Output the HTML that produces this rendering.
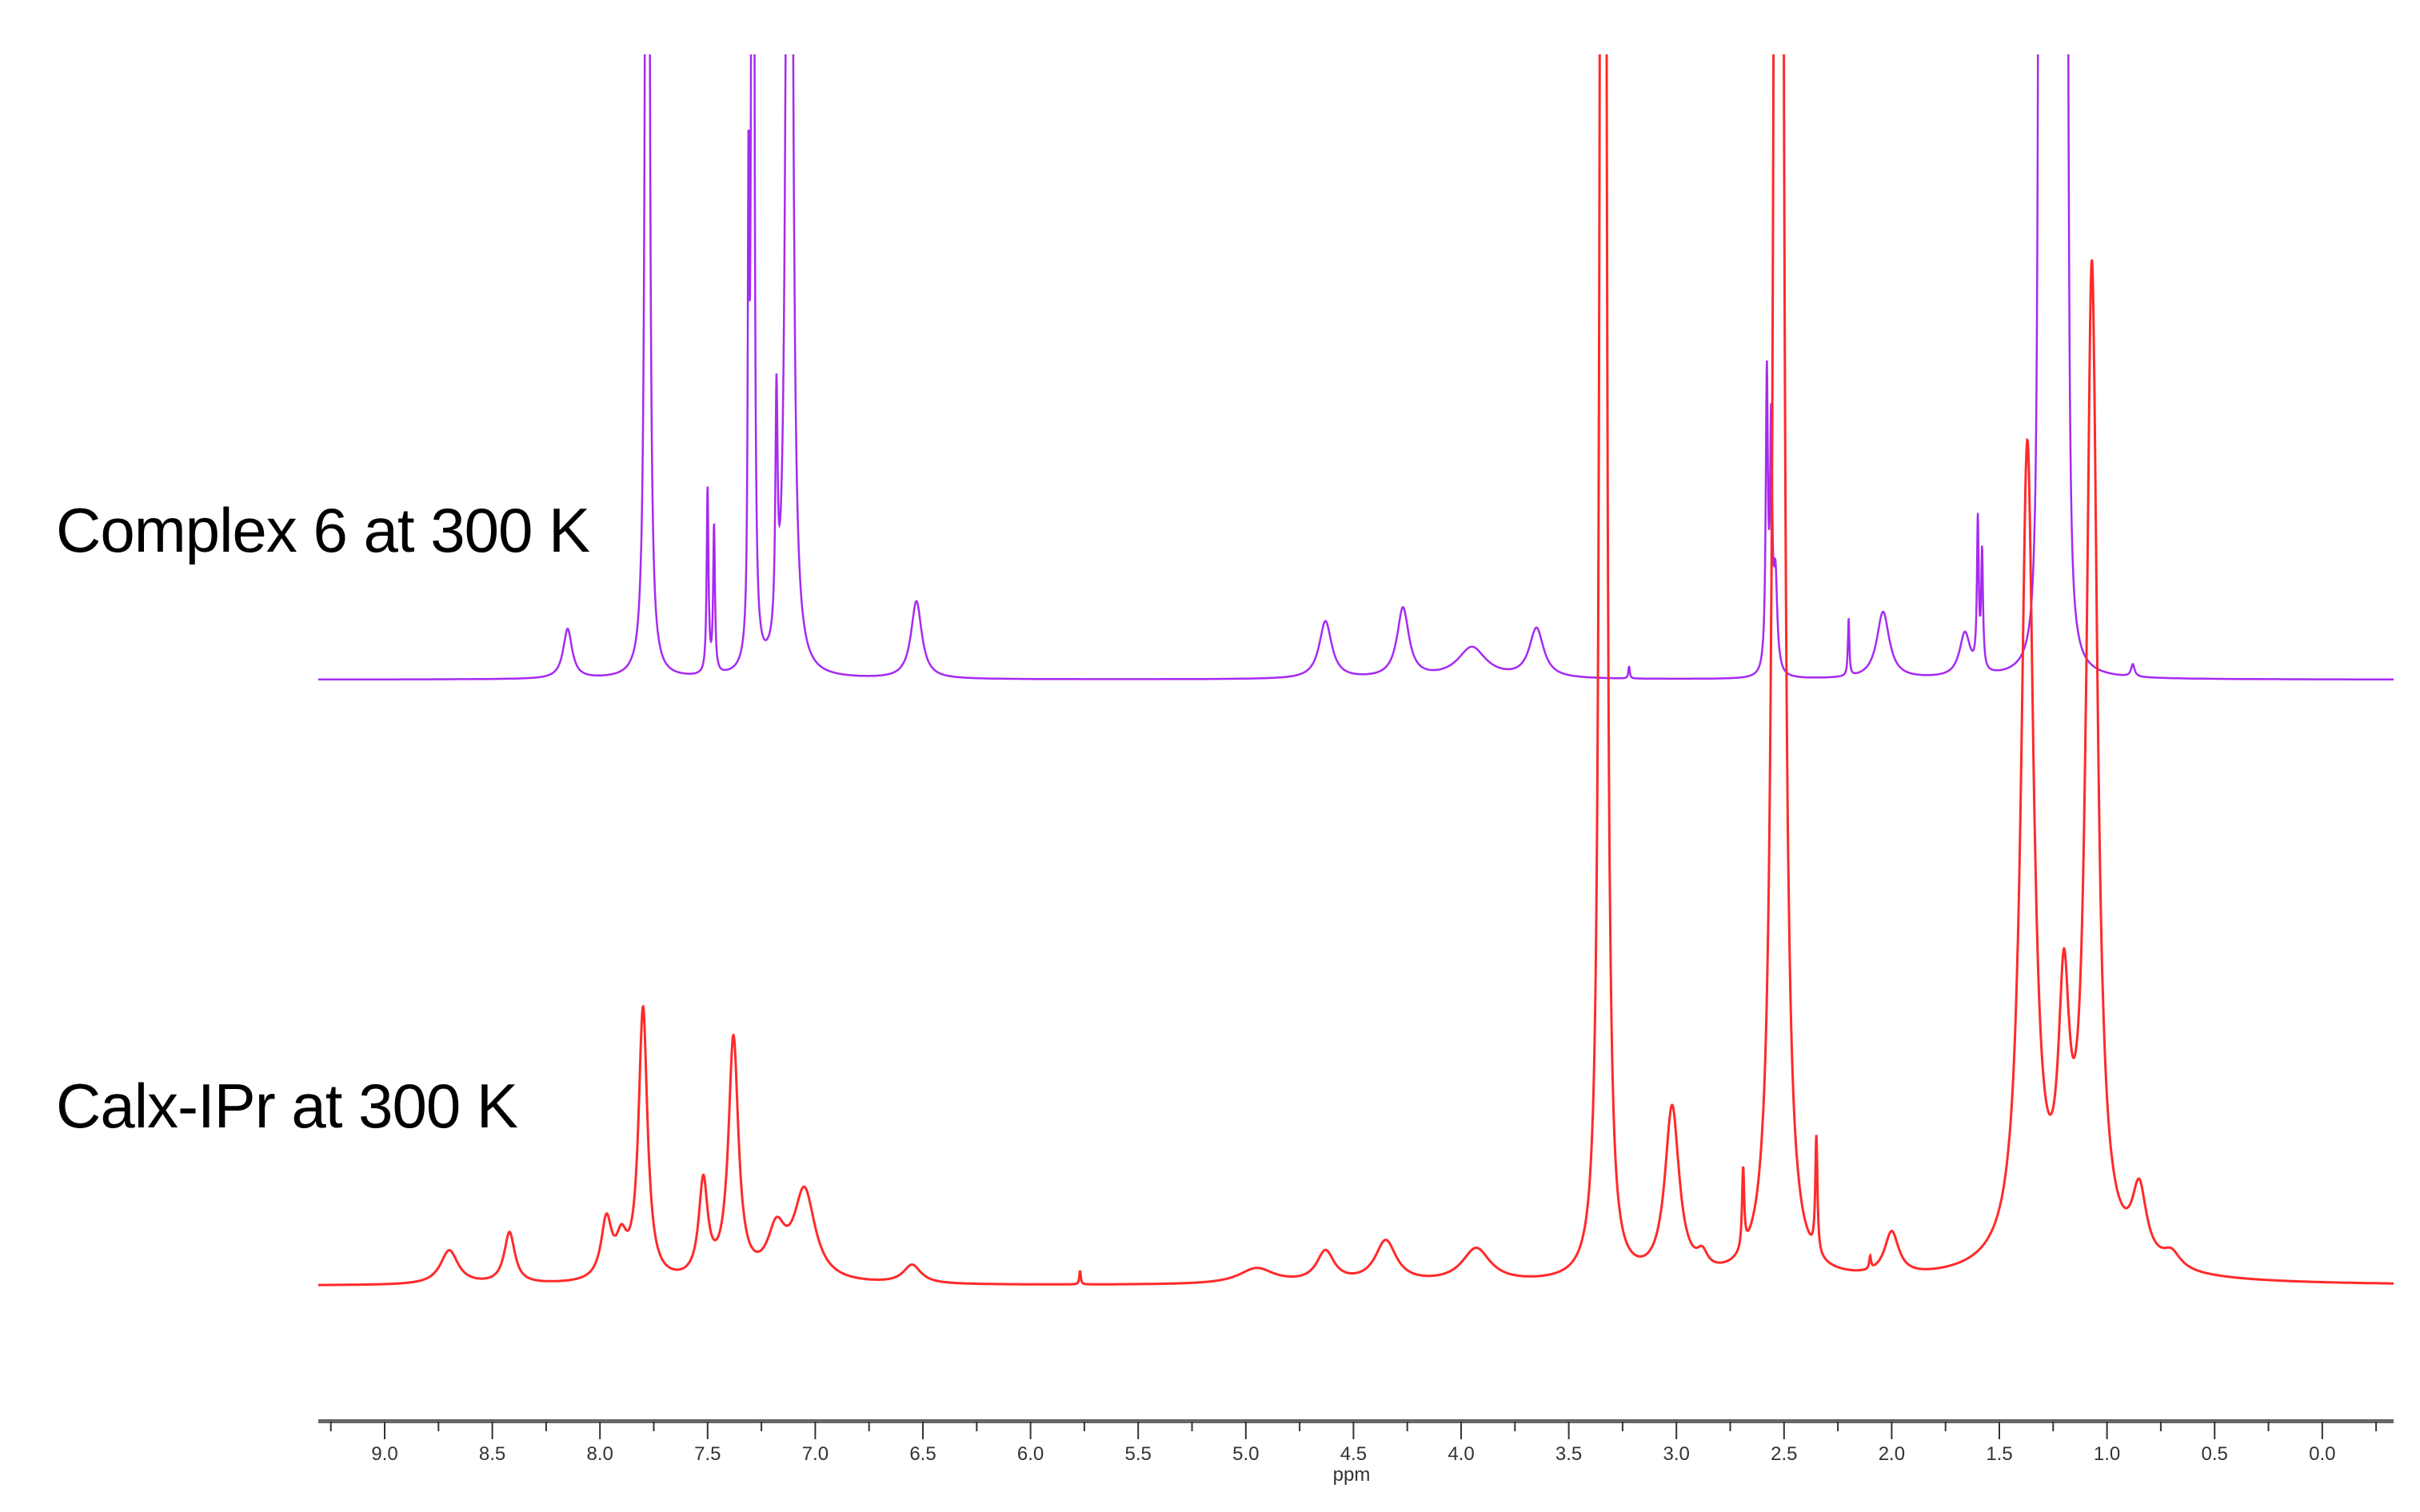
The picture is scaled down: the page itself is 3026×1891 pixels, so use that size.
<!DOCTYPE html>
<html><head><meta charset="utf-8"><style>
html,body{margin:0;padding:0;background:#fff;}
svg{display:block;}
text{font-family:"Liberation Sans",sans-serif;}
</style></head><body>
<svg id="chart" width="3026" height="1891" viewBox="0 0 3026 1891" xmlns="http://www.w3.org/2000/svg">
<defs><clipPath id="plotclip"><rect x="398" y="68" width="2595" height="1700"/></clipPath></defs>
<g id="axis"></g>
<g clip-path="url(#plotclip)">
<path id="purple" fill="none" stroke="#a62af2" stroke-width="2.5"/>
<path id="red" fill="none" stroke="#ff2a2a" stroke-width="3"/>
</g>
<text x="70" y="690" font-size="78" letter-spacing="-1" fill="#000">Complex 6 at 300 K</text>
<text x="70" y="1410" font-size="78" letter-spacing="-1" fill="#000">Calx-IPr at 300 K</text>
<text x="1690" y="1852" font-size="24" text-anchor="middle" fill="#333">ppm</text>
</svg>
<script>
// Peak data: centres (ppm), heights (arbitrary intensity), half widths (ppm)
const purpleCenters=[8.15,7.78,7.50,7.47,7.31,7.29,7.18,7.12,6.53,4.63,4.27,3.95,3.65,3.22,2.58,2.56,2.54,2.20,2.04,1.66,1.60,1.58,1.31,1.28,1.25,1.22,1.19,0.88];
const purpleHeights=[32,2000,120,95,280,2000,150,2000,50,37,45,20,32,8,190,150,60,37,43,28,95,75,2000,2000,2000,2000,2000,8];
const purpleWidths=[0.025,0.006,0.005,0.005,0.004,0.004,0.006,0.009,0.03,0.035,0.033,0.08,0.04,0.004,0.006,0.006,0.01,0.004,0.035,0.03,0.005,0.005,0.005,0.005,0.005,0.005,0.005,0.01];
const redCenters=[8.70,8.42,7.97,7.90,7.80,7.52,7.38,7.18,7.05,6.55,5.77,4.95,4.63,4.35,3.93,3.34,3.02,2.88,2.69,2.525,2.35,2.10,2.00,1.37,1.20,1.07,0.85,0.70,1.2];
const redHeights=[22,33,38,22,175,62,155,30,58,12,9,10,20,27,22,4000,110,10,52,4000,75,8,28,520,145,630,45,10,18];
const redWidths=[0.05,0.03,0.03,0.03,0.025,0.025,0.028,0.05,0.06,0.05,0.004,0.1,0.05,0.06,0.08,0.008,0.04,0.03,0.006,0.012,0.006,0.005,0.04,0.035,0.03,0.03,0.04,0.05,0.3];
const tickLabels=["9.0","8.5","8.0","7.5","7.0","6.5","6.0","5.5","5.0","4.5","4.0","3.5","3.0","2.5","2.0","1.5","1.0","0.5","0.0"];

const X0=481, PPM_PX=269.2;
function xScale(ppm){return X0+(9-ppm)*PPM_PX;}
const YS=1.94;
function yScale(base,v){return base-v*YS;}
const LEFT=9.31, RIGHT=-0.34;
function spectrum(c,h,w,ppm){let s=0;for(let i=0;i<c.length;i++){const d=(ppm-c[i])/w[i];s+=h[i]/(1+d*d);}return s;}
function buildPath(c,h,w,base){let d="";for(let p=LEFT;p>=RIGHT;p-=0.0015){const v=Math.min(spectrum(c,h,w,p),1000);d+=(d?"L":"M")+xScale(p).toFixed(1)+" "+yScale(base,v).toFixed(1);}return d;}
document.getElementById('purple').setAttribute('d',buildPath(purpleCenters,purpleHeights,purpleWidths,850));
document.getElementById('red').setAttribute('d',buildPath(redCenters,redHeights,redWidths,1608));

const NS="http://www.w3.org/2000/svg";
const ax=document.getElementById('axis');
const line=document.createElementNS(NS,'rect');


line.setAttribute('x',398);line.setAttribute('y',1775);line.setAttribute('width',2595);line.setAttribute('height',5);line.setAttribute('fill','#666');
ax.appendChild(line);
for(let k=0;k<=38;k++){
  const p=9.25-k*0.25; const major=(k%2===1);
  const t=document.createElementNS(NS,'line');
  
  
  const x=xScale(p);
  t.setAttribute('x1',x);t.setAttribute('x2',x);t.setAttribute('y1',1778);t.setAttribute('y2',major?1800:1790);
  t.setAttribute('stroke','#333');t.setAttribute('stroke-width','2');
  ax.appendChild(t);
}
tickLabels.forEach(function(lbl){
  const tx=document.createElementNS(NS,'text');
  
  
  tx.setAttribute('x',xScale(parseFloat(lbl)));tx.setAttribute('y',1826);
  tx.setAttribute('font-size','24');tx.setAttribute('text-anchor','middle');tx.setAttribute('fill','#333');
  tx.textContent=lbl;ax.appendChild(tx);
});
</script>
</body></html>
